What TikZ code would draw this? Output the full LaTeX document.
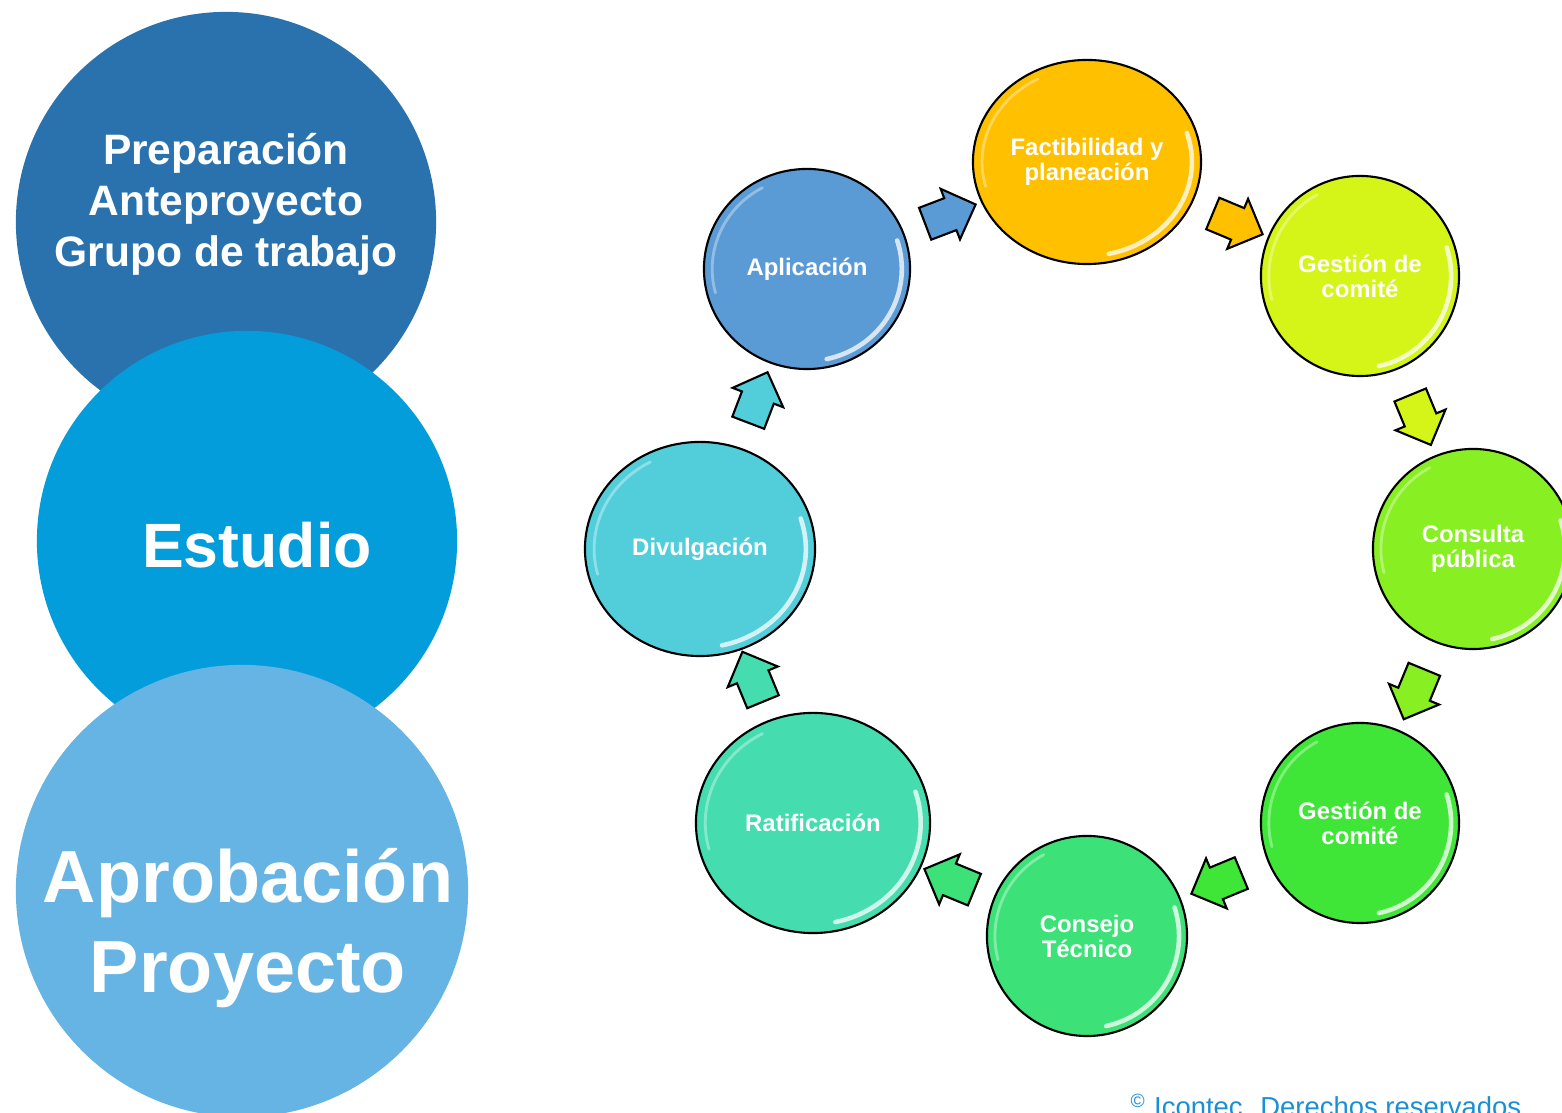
\documentclass[tikz,border=0pt]{standalone}
\usepackage{fontspec}
\setmainfont{Liberation Sans}
\usetikzlibrary{shapes.geometric,shapes.arrows,calc}

\definecolor{azulOsc}{HTML}{2A72AE}
\definecolor{azulMed}{HTML}{049DDC}
\definecolor{azulCla}{HTML}{66B4E3}
\definecolor{cFac}{HTML}{FFC000}
\definecolor{cGesA}{HTML}{D5F518}
\definecolor{cCon}{HTML}{88EF22}
\definecolor{cGesB}{HTML}{3FE637}
\definecolor{cTec}{HTML}{3CE278}
\definecolor{cRat}{HTML}{45DDB0}
\definecolor{cDiv}{HTML}{52CEDB}
\definecolor{cApl}{HTML}{5B9BD5}
\definecolor{cCopy}{HTML}{1A8FD6}

\tikzset{
  etapa/.style={circle, inner sep=0pt},
  rotulo/.style={text=white, font=\bfseries, align=center},
  brillo/.style={path picture={
    \draw[white, line width=1.3pt, line cap=round, opacity=0.75]
      let \p1=(path picture bounding box.north east), \p2=(path picture bounding box.center),
          \n1={0.92*(\x1-\x2)}, \n2={0.92*(\y1-\y2)} in
      ($(\p2)+(-78:\n1 and \n2)$) arc[start angle=-78, end angle=18, x radius=\n1, y radius=\n2];
    \draw[white, line width=0.8pt, line cap=round, opacity=0.35]
      let \p1=(path picture bounding box.north east), \p2=(path picture bounding box.center),
          \n1={0.92*(\x1-\x2)}, \n2={0.92*(\y1-\y2)} in
      ($(\p2)+(118:\n1 and \n2)$) arc[start angle=118, end angle=195, x radius=\n1, y radius=\n2];
  }},
  burbuja/.style={ellipse, draw=black, line width=0.6pt, inner sep=0pt, text=white,
    font=\bfseries\fontsize{6.8}{7.1}\selectfont, align=center, brillo},
  flechita/.style={single arrow, draw=black, line width=0.6pt, inner xsep=0pt, inner ysep=0.16cm,
    minimum height=0.54cm, single arrow head extend=0.1cm}
}

\begin{document}
\begin{tikzpicture}[x=0.01cm, y=-0.01cm]
  \useasboundingbox (0,0) rectangle (1562,1113);
  \clip (0,0) rectangle (1562,1113);

  % etapas grandes
  \node[etapa, fill=azulOsc, minimum size=4.2cm] (prep) at (226,222) {};
  \node[etapa, fill=azulMed, minimum size=4.2cm] (est) at (247,541) {};
  \node[etapa, fill=azulCla, minimum size=4.52cm] (apr) at (242,891) {};
  \node[rotulo, font=\bfseries\fontsize{12.1}{14.5}\selectfont] (tprep) at (226,204)
    {Preparación\\Anteproyecto\\Grupo de trabajo};
  \node[rotulo, font=\bfseries\fontsize{17.8}{20}\selectfont] (test) at (257,545) {Estudio};
  \node[rotulo, font=\bfseries\fontsize{21}{25.6}\selectfont] (tapr) at (248,928)
    {Aprobación\\Proyecto};

  % ciclo
  \node[burbuja, fill=cFac, minimum width=2.28cm, minimum height=2.04cm] (fac) at (1087,162) {Factibilidad y\\planeación};
  \node[burbuja, fill=cGesA, minimum width=1.98cm, minimum height=2cm] (gesA) at (1360,276) {Gestión de\\comité};
  \node[burbuja, fill=cCon, minimum width=2cm, minimum height=2cm] (con) at (1473,549) {Consulta\\pública};
  \node[burbuja, fill=cGesB, minimum width=1.98cm, minimum height=2cm] (gesB) at (1360,823) {Gestión de\\comité};
  \node[burbuja, fill=cTec, minimum width=2cm, minimum height=2cm] (tec) at (1087,936) {Consejo\\Técnico};
  \node[burbuja, fill=cRat, minimum width=2.34cm, minimum height=2.2cm] (rat) at (813,823) {Ratificación};
  \node[burbuja, fill=cDiv, minimum width=2.3cm, minimum height=2.14cm] (div) at (700,549) {Divulgación};
  \node[burbuja, fill=cApl, minimum width=2.06cm, minimum height=2cm] (apl) at (807,269) {Aplicación};

  \foreach \a/\b/\c in {apl/fac/cApl, fac/gesA/cFac, gesA/con/cGesA, con/gesB/cCon,
                        gesB/tec/cGesB, tec/rat/cTec, rat/div/cRat, div/apl/cDiv}
    \path let \p1=($(\b.center)-(\a.center)$), \n1={atan2(\y1,\x1)}, \n2={\n1+180} in
      node[flechita, fill=\c, rotate=\n1] (f\a) at ($(\a.\n1)!0.5!(\b.\n2)$) {};

  \node[anchor=base west, inner sep=0pt, text=cCopy, font=\fontsize{7.8}{9}\selectfont]
    (derechos) at (1130,1117) {\textsuperscript{\textcopyright} Icontec. Derechos reservados};
\end{tikzpicture}
\end{document}
